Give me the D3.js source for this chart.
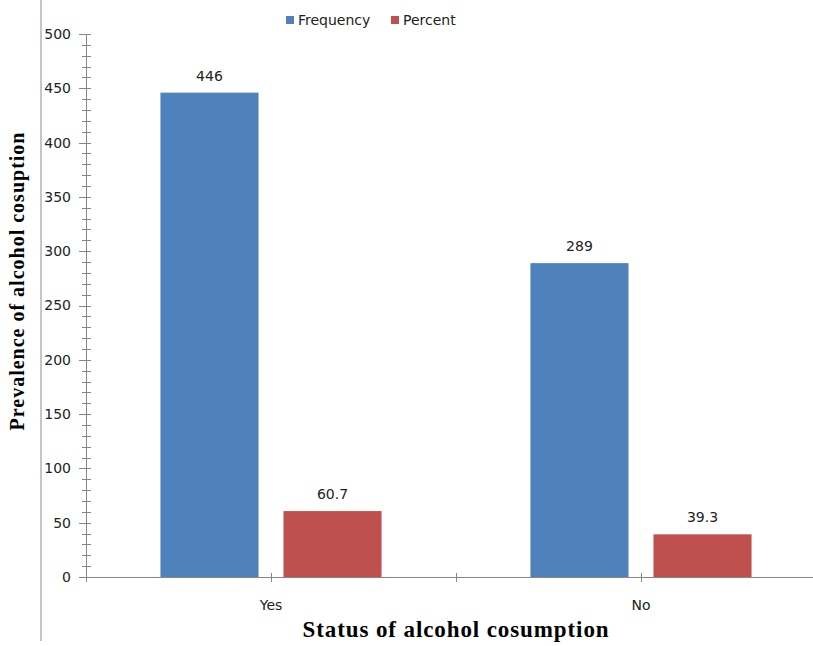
<!DOCTYPE html>
<html>
<head>
<meta charset="utf-8">
<script src="https://cdn.jsdelivr.net/npm/d3@7"></script>
<style>
    body { margin: 0; background: #fff; }
    svg { display: block; }
</style>
</head>
<body>
<script>
// 数据
const categories = ['Yes', 'No'];
const seriesNames = ['Frequency', 'Percent'];
const frequency = [446, 289];
const percent = [60.7, 39.3];
const yTicks = [0, 50, 100, 150, 200, 250, 300, 350, 400, 450, 500];
const colors = ['#4F81BD', '#C0504D'];

const width = 813, height = 646;
const svg = d3.select('body').append('svg')
    .attr('width', width)
    .attr('height', height);

// 绘图区
const x0 = 86, y0 = 577, yTop = 34;
const bandW = 370;

const x = d3.scaleBand()
    .domain(categories)
    .range([x0, x0 + bandW * categories.length])
    .paddingInner(0)
    .paddingOuter(0);

const xInner = d3.scaleBand()
    .domain(seriesNames)
    .range([0, x.bandwidth()])
    .paddingInner(0.203)
    .paddingOuter(0.605);

const y = d3.scaleLinear()
    .domain([0, 500])
    .range([y0, yTop]);

// 左侧边框
svg.append('line')
    .attr('x1', 41).attr('x2', 41)
    .attr('y1', 0).attr('y2', 641)
    .attr('stroke', '#8c8c8c')
    .attr('stroke-width', 1);

// 柱子
const rows = categories.map((c, i) => ({cat: c, values: [frequency[i], percent[i]]}));
const groups = svg.selectAll('g.grp')
    .data(rows)
    .enter()
    .append('g')
    .attr('class', 'grp')
    .attr('transform', d => `translate(${x(d.cat)},0)`);

groups.selectAll('rect')
    .data(d => d.values.map((v, j) => ({name: seriesNames[j], v: v, j: j})))
    .enter()
    .append('rect')
    .attr('x', d => xInner(d.name))
    .attr('width', xInner.bandwidth())
    .attr('y', d => y(d.v))
    .attr('height', d => y0 - y(d.v))
    .attr('fill', d => colors[d.j]);

// 数据标签
groups.selectAll('text.lbl')
    .data(d => d.values.map((v, j) => ({name: seriesNames[j], v: v, j: j})))
    .enter()
    .append('text')
    .attr('class', 'lbl')
    .attr('x', d => xInner(d.name) + xInner.bandwidth() / 2)
    .attr('y', d => y(d.v) - 12)
    .attr('text-anchor', 'middle')
    .attr('font-family', 'DejaVu Sans, sans-serif')
    .attr('font-size', 14)
    .attr('fill', '#222')
    .text(d => d.v);

// Y 轴
const axisColor = '#868686';
const yAxis = svg.append('g');
yAxis.append('line')
    .attr('x1', x0 + 0.5).attr('x2', x0 + 0.5)
    .attr('y1', yTop).attr('y2', y0)
    .attr('stroke', axisColor);
// 次刻度
yAxis.selectAll('line.minor')
    .data(d3.range(0, 501, 10))
    .enter()
    .append('line')
    .attr('class', 'minor')
    .attr('x1', x0 - 4).attr('x2', x0 + 5)
    .attr('y1', d => Math.round(y(d)) + 0.5)
    .attr('y2', d => Math.round(y(d)) + 0.5)
    .attr('stroke', axisColor);
// 主刻度
yAxis.selectAll('line.major')
    .data(yTicks)
    .enter()
    .append('line')
    .attr('class', 'major')
    .attr('x1', x0 - 7).attr('x2', x0 + 5)
    .attr('y1', d => Math.round(y(d)) + 0.5)
    .attr('y2', d => Math.round(y(d)) + 0.5)
    .attr('stroke', axisColor);
yAxis.selectAll('text')
    .data(yTicks)
    .enter()
    .append('text')
    .attr('x', x0 - 15)
    .attr('y', d => y(d))
    .attr('dy', '0.35em')
    .attr('text-anchor', 'end')
    .attr('font-family', 'DejaVu Sans, sans-serif')
    .attr('font-size', 14)
    .attr('fill', '#222')
    .text(d => d);

// X 轴
const xAxis = svg.append('g');
xAxis.append('line')
    .attr('x1', x0).attr('x2', width)
    .attr('y1', y0 + 0.5).attr('y2', y0 + 0.5)
    .attr('stroke', axisColor);
const xTickPos = [];
categories.forEach(c => {
    xTickPos.push(x(c));
    xTickPos.push(x(c) + x.bandwidth() / 2);
});
xAxis.selectAll('line.tick')
    .data(xTickPos)
    .enter()
    .append('line')
    .attr('class', 'tick')
    .attr('x1', d => Math.round(d) + 0.5)
    .attr('x2', d => Math.round(d) + 0.5)
    .attr('y1', y0 - 4).attr('y2', y0 + 5)
    .attr('stroke', axisColor);
xAxis.selectAll('text')
    .data(categories)
    .enter()
    .append('text')
    .attr('x', d => x(d) + x.bandwidth() / 2)
    .attr('y', 610)
    .attr('text-anchor', 'middle')
    .attr('font-family', 'DejaVu Sans, sans-serif')
    .attr('font-size', 14)
    .attr('fill', '#222')
    .text(d => d);

// 轴标题
svg.append('text')
    .attr('x', 456)
    .attr('y', 637)
    .attr('text-anchor', 'middle')
    .attr('font-family', 'Liberation Serif, Times New Roman, serif')
    .attr('font-weight', 'bold')
    .attr('font-size', 23)
    .attr('letter-spacing', 0.9)
    .attr('fill', '#000')
    .text('Status of alcohol cosumption');

svg.append('text')
    .attr('transform', 'translate(24,281) rotate(-90)')
    .attr('text-anchor', 'middle')
    .attr('font-family', 'Liberation Serif, Times New Roman, serif')
    .attr('font-weight', 'bold')
    .attr('font-size', 20)
    .attr('letter-spacing', 1)
    .attr('fill', '#000')
    .text('Prevalence of alcohol cosuption');

// 图例
const legend = svg.append('g').attr('transform', 'translate(286,16)');
const legX = [0, 105];
seriesNames.forEach((n, i) => {
    legend.append('rect')
        .attr('x', legX[i]).attr('y', 0)
        .attr('width', 8).attr('height', 8)
        .attr('fill', colors[i]);
    legend.append('text')
        .attr('x', legX[i] + 12)
        .attr('y', 4)
        .attr('dy', '0.35em')
        .attr('font-family', 'DejaVu Sans, sans-serif')
        .attr('font-size', 14)
        .attr('fill', '#222')
        .text(n);
});
</script>
</body>
</html>
